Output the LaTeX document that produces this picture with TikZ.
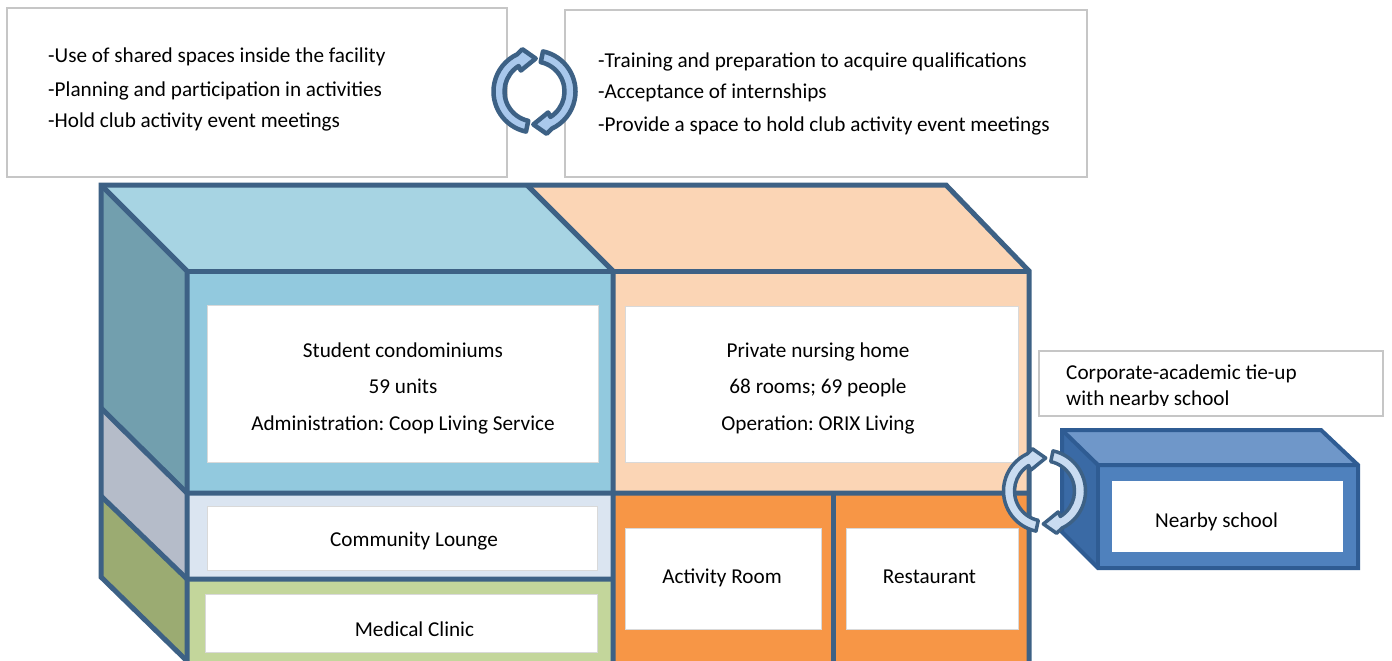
\documentclass[tikz,border=0pt]{standalone}
\usepackage{fontspec}
\setmainfont{Carlito}
\frenchspacing
\definecolor{lineblue}{HTML}{3D6185}
\definecolor{topblue}{HTML}{A7D4E3}
\definecolor{sideblue}{HTML}{729FAE}
\definecolor{frontblue}{HTML}{92C9DE}
\definecolor{peach}{HTML}{FBD5B5}
\definecolor{sidegrey}{HTML}{B5BCC9}
\definecolor{lounge}{HTML}{DBE5F1}
\definecolor{sideolive}{HTML}{9BAB72}
\definecolor{clinic}{HTML}{C3D69B}
\definecolor{orangeroom}{HTML}{F79646}
\definecolor{schoolline}{HTML}{2F5C93}
\definecolor{schooltop}{HTML}{6F97C9}
\definecolor{schoolfront}{HTML}{4F81BD}
\definecolor{schoolside}{HTML}{3A6AA5}
\definecolor{cyclefill}{HTML}{A9C8EC}
\definecolor{cyclepale}{HTML}{C9DCF1}
\definecolor{boxgrey}{HTML}{C6C6C6}
\tikzset{
  x=1pt,y=-1pt,
  structure/.style={draw=lineblue,line width=5pt,line join=miter},
  schoolface/.style={draw=schoolline,line width=4pt,line join=miter},
  notebox/.style={draw=boxgrey,line width=1.5pt,fill=white},
  whitepanel/.style={fill=white,draw=black!15,line width=.8pt},
  label/.style={font=\fontsize{21.2}{24}\selectfont,text=black,inner sep=0pt,anchor=base},
  leftlabel/.style={label,anchor=base west},
  cyclearrow/.style={draw=lineblue,line join=round},
  pics/halfcycle/.style={code={
    \path[cyclearrow,fill=#1]
      (102:41) arc[start angle=102,end angle=245,radius=41]
      -- (254:44) -- (272:33) -- (237:25) -- (238:30)
      arc[start angle=238,end angle=102,radius=30] -- cycle;
  }},
  pics/fullcycle/.style={code={
    \pic {halfcycle=#1};
    \pic[rotate=180] {halfcycle=#1};
  }}
}
\begin{document}
\begin{tikzpicture}
\useasboundingbox (0,0) rectangle (1392,661);
\fill[white] (0,0) rectangle (1392,661);
% note boxes
\draw[notebox] (7,8) rectangle (507,177);
\draw[notebox] (565,10) rectangle (1087,177);
\draw[notebox] (1039,351) rectangle (1383,416);
\node[leftlabel] (n1) at (48,63) {-Use of shared spaces inside the facility};
\node[leftlabel] (n2) at (48,96) {-Planning and participation in activities};
\node[leftlabel] (n3) at (48,127) {-Hold club activity event meetings};
\node[leftlabel] (m1) at (598,67) {-Training and preparation to acquire qualifications};
\node[leftlabel] (m2) at (598,99) {-Acceptance of internships};
\node[leftlabel] (m3) at (598,131) {-Provide a space to hold club activity event meetings};
\node[leftlabel] (t1) at (1066,379) {Corporate-academic tie-up};
\node[leftlabel] (t2) at (1066,405) {with nearby school};
\fill[white] (1060,405.5) rectangle (1300,414);
% main block faces
\fill[topblue] (101,185) -- (527,185) -- (613,271) -- (187,271) -- cycle;
\fill[peach] (527,185) -- (946,185) -- (1029,271) -- (613,271) -- cycle;
\fill[sideblue] (101,185) -- (187,271) -- (187,493) -- (101,408) -- cycle;
\fill[sidegrey] (101,408) -- (187,493) -- (187,579) -- (101,496) -- cycle;
\fill[sideolive] (101,496) -- (187,579) -- (187,661) -- (101,577) -- cycle;
\fill[frontblue] (187,271) rectangle (613,493);
\fill[lounge] (187,493) rectangle (613,579);
\fill[clinic] (187,579) rectangle (613,661);
\fill[peach] (613,271) rectangle (1029,493);
\fill[orangeroom] (613,493) rectangle (1029,661);
% white panels
\draw[whitepanel] (207,305) rectangle (598,462);
\draw[whitepanel] (625,306) rectangle (1018,462);
\draw[whitepanel] (207,506) rectangle (597,570);
\draw[whitepanel] (205,594) rectangle (597,652);
\draw[whitepanel] (625,528) rectangle (821,629);
\draw[whitepanel] (846,528) rectangle (1018,629);
% structure lines
\draw[structure] (187,661) -- (101,577) -- (101,185) -- (946,185) -- (1029,271) -- (1029,661);
\draw[structure] (101,185) -- (187,271) -- (187,661);
\draw[structure] (187,271) -- (1029,271);
\draw[structure] (527,185) -- (613,271) -- (613,661);
\draw[structure] (101,408) -- (187,493) -- (1029,493);
\draw[structure] (101,496) -- (187,579) -- (613,579);
\draw[structure] (833,493) -- (833,661);
% panel labels
\node[label] (s1) at (403,357) {Student condominiums};
\node[label] (s2) at (403,393) {59 units};
\node[label] (s3) at (403,430) {Administration: Coop Living Service};
\node[label] (p1) at (818,357) {Private nursing home};
\node[label] (p2) at (818,393) {68 rooms; 69 people};
\node[label] (p3) at (818,430) {Operation: ORIX Living};
\node[label] (cl) at (414,546) {Community Lounge};
\node[label] (mc) at (414.5,636) {Medical Clinic};
\node[label] (ar) at (722,583) {Activity Room};
\node[label] (re) at (929.5,583) {Restaurant};
% nearby school
\fill[schooltop] (1062,430) -- (1321,430) -- (1358,465) -- (1098,465) -- cycle;
\fill[schoolside] (1062,430) -- (1098,465) -- (1098,568) -- (1062,532) -- cycle;
\fill[schoolfront] (1098,465) rectangle (1358,568);
\draw[schoolface] (1098,568) -- (1062,532) -- (1062,430) -- (1321,430) -- (1358,465) -- (1358,568) -- cycle;
\draw[schoolface] (1062,430) -- (1098,465) -- (1358,465);
\draw[schoolface] (1098,465) -- (1098,568);
\fill[white] (1112,481) rectangle (1343,552);
\node[label] (ns) at (1216.5,527) {Nearby school};
% cycle arrows
\pic[line width=4.5pt] at (534.5,91.5) {fullcycle=cyclefill};
\pic[line width=3.5pt,yscale=1.06] at (1044.5,491) {fullcycle=cyclepale};
\end{tikzpicture}
\end{document}
